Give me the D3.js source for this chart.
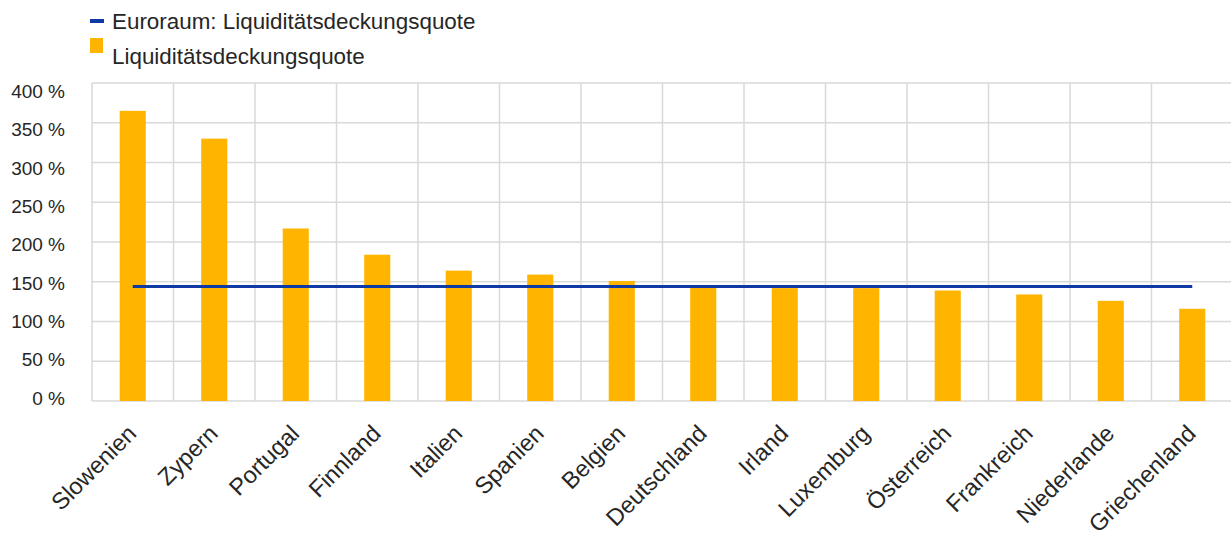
<!DOCTYPE html>
<html>
<head>
<meta charset="utf-8">
<script src="https://cdn.jsdelivr.net/npm/d3@7"></script>
<style>
  html, body { margin: 0; padding: 0; background: #fff; }
  svg { display: block; font-family: "Liberation Sans", Arial, sans-serif; }
</style>
</head>
<body>
<svg id="chart" width="1231" height="537"></svg>
<script>
// Liquidity coverage ratio by country, in percent
const countries = ["Slowenien", "Zypern", "Portugal", "Finnland", "Italien", "Spanien", "Belgien",
  "Deutschland", "Irland", "Luxemburg", "Österreich", "Frankreich", "Niederlande", "Griechenland"];
const lcrValues = [365, 330, 217, 184, 164, 159, 151, 143, 142, 142, 139, 134, 126, 116];
const euroAreaValue = 144;
const yTicks = [0, 50, 100, 150, 200, 250, 300, 350, 400];
const legendLabels = ["Euroraum: Liquiditätsdeckungsquote", "Liquiditätsdeckungsquote"];

const svg = d3.select("#chart");
const margin = { left: 92, top: 83, bottom: 401, right: 1233 };
const gridColor = "#d9d9d9";
const textColor = "#262626";
const barColor = "#ffb400";
const lineColor = "#0f3aa6";

const x = d3.scaleBand().domain(countries).range([margin.left, margin.right]).padding(0);
const y = d3.scaleLinear().domain([0, 400]).range([margin.bottom, margin.top]);
// tick labels sit on a slightly compressed scale relative to the gridlines
const yLabel = d3.scaleLinear().domain([0, 400]).range([margin.bottom - 3, margin.top + 8.5]);

// horizontal grid
svg.append("g").selectAll("line").data(yTicks).join("line")
  .attr("x1", margin.left).attr("x2", margin.right)
  .attr("y1", d => y(d)).attr("y2", d => y(d))
  .attr("stroke", gridColor).attr("stroke-width", 1.5);

// vertical grid at category boundaries
const bounds = countries.map(c => x(c)).concat([x(countries[countries.length - 1]) + x.bandwidth()]);
svg.append("g").selectAll("line").data(bounds).join("line")
  .attr("x1", d => d).attr("x2", d => d)
  .attr("y1", margin.top).attr("y2", margin.bottom)
  .attr("stroke", gridColor).attr("stroke-width", 1.5);

// y axis labels
const yAxis = d3.axisLeft(yLabel).tickValues(yTicks).tickSize(0).tickPadding(0)
  .tickFormat(d => d + " %");
const yg = svg.append("g").attr("transform", `translate(${margin.left - 27},0)`).call(yAxis);
yg.select(".domain").remove();
yg.selectAll("text").attr("font-size", 19).attr("fill", textColor)
  .attr("font-family", "'Liberation Sans', Arial, sans-serif");

// bars
const barW = x.bandwidth() * 0.32;
svg.append("g").selectAll("rect").data(countries).join("rect")
  .attr("x", (d) => x(d) + x.bandwidth() / 2 - barW / 2)
  .attr("width", barW)
  .attr("y", (d, i) => y(lcrValues[i]))
  .attr("height", (d, i) => y(0) - y(lcrValues[i]))
  .attr("fill", barColor);

// euro area line
const lineData = countries.map(c => [x(c) + x.bandwidth() / 2, y(euroAreaValue)]);
svg.append("path").datum(lineData)
  .attr("d", d3.line())
  .attr("fill", "none").attr("stroke", lineColor).attr("stroke-width", 3);

// x axis labels, rotated
const xAxis = d3.axisBottom(x).tickSize(0).tickPadding(0);
const xg = svg.append("g").attr("transform", `translate(0,${margin.bottom})`).call(xAxis);
xg.select(".domain").remove();
xg.selectAll("text")
  .attr("font-size", 23.5).attr("fill", textColor)
  .attr("font-family", "'Liberation Sans', Arial, sans-serif")
  .attr("text-anchor", "end")
  .attr("dy", 0)
  .attr("y", 0)
  .attr("transform", "translate(5,34) rotate(-45)");

// legend
const legend = svg.append("g");
legend.append("rect").attr("x", 90).attr("y", 19).attr("width", 14).attr("height", 4).attr("fill", lineColor);
legend.append("rect").attr("x", 90).attr("y", 38).attr("width", 13).attr("height", 15).attr("fill", barColor);
legend.selectAll("text").data(legendLabels).join("text")
  .attr("x", 112).attr("y", (d, i) => 29 + i * 35)
  .attr("font-size", 22.4).attr("fill", textColor)
  .text(d => d);
</script>
</body>
</html>
